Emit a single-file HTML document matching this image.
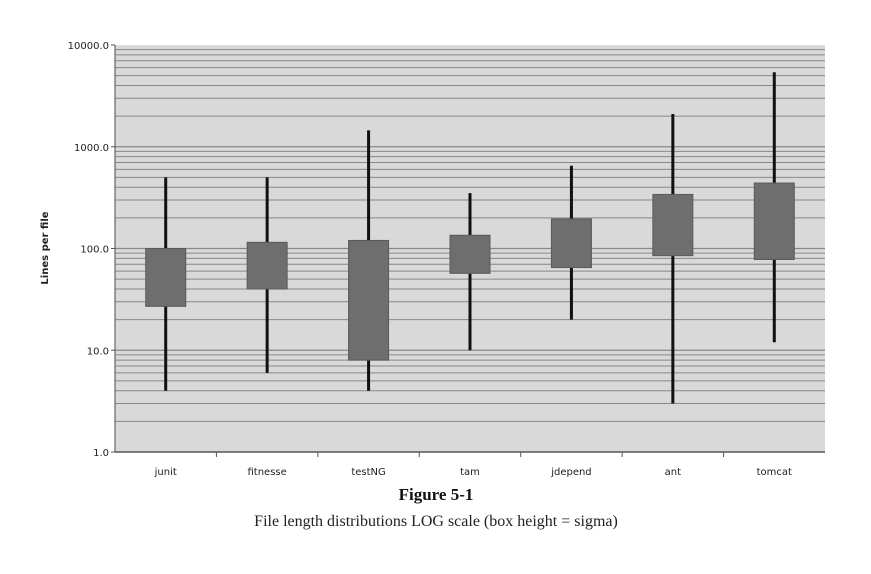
<!DOCTYPE html>
<html><head><meta charset="utf-8"><style>
body{margin:0;background:#fff;width:871px;height:569px;overflow:hidden}
</style></head><body>
<svg id="c" width="871" height="569" xmlns="http://www.w3.org/2000/svg">
<rect x="115" y="45" width="710" height="407" fill="#d9d9d9"/>
<g id="grid"></g><g id="marks"></g><g id="axes"></g>
<text transform="translate(48,248) rotate(-90)" text-anchor="middle" font-family="DejaVu Sans, sans-serif" font-size="10" font-weight="bold" fill="#222">Lines per file</text>
<text x="436" y="500" text-anchor="middle" font-family="Liberation Serif, serif" font-size="17" font-weight="bold" fill="#111">Figure 5-1</text>
<text x="436" y="526" text-anchor="middle" font-family="Liberation Serif, serif" font-size="16" fill="#222">File length distributions LOG scale (box height = sigma)</text>
</svg>
<script>
const categories=["junit","fitnesse","testNG","tam","jdepend","ant","tomcat"];
const boxLow=[27,40,8,57,65,85,78];
const boxHigh=[100,115,120,135,195,340,440];
const whiskerLow=[4,6,4,10,20,3,12];
const whiskerHigh=[500,500,1450,350,650,2100,5400];
const yTicks=[1,10,100,1000,10000];
const yTickLabels=["1.0","10.0","100.0","1000.0","10000.0"];
const NS="http://www.w3.org/2000/svg";
const L=115,R=825,T=45,B=452;
function y(v){return B-(Math.log10(v)/4)*(B-T);}
const bw=(R-L)/categories.length;
function x(i){return L+bw*(i+0.5);}
function mk(tag,attrs,parent){const e=document.createElementNS(NS,tag);for(const k in attrs)e.setAttribute(k,attrs[k]);document.getElementById(parent).appendChild(e);return e;}
for(let d=0;d<4;d++){for(let m=1;m<10;m++){const v=Math.pow(10,d)*m;if(m===1&&d===0)continue;
const g=mk('line',{x1:L,x2:R,y1:y(v),y2:y(v),stroke:'#888','stroke-width':m===1?1.3:1},'grid');

}}
const ax=mk('line',{x1:L,x2:L,y1:T,y2:B,stroke:'#666','stroke-width':1.2},'axes');


const xa=mk('line',{x1:L,x2:R,y1:B,y2:B,stroke:'#555','stroke-width':1.5},'axes');


yTicks.forEach((v,i)=>{const t=mk('line',{x1:L-4,x2:L,y1:y(v),y2:y(v),stroke:'#555'},'axes');


const tx=mk('text',{x:L-6,y:y(v)+4,'text-anchor':'end','font-family':'DejaVu Sans, sans-serif','font-size':'10',fill:'#222'},'axes');tx.textContent=yTickLabels[i];

});
for(let i=1;i<categories.length;i++){const t=mk('line',{x1:L+bw*i,x2:L+bw*i,y1:B,y2:B+5,stroke:'#555'},'axes');

}
categories.forEach((c,i)=>{
const w=mk('line',{x1:x(i),x2:x(i),y1:y(whiskerHigh[i]),y2:y(whiskerLow[i]),stroke:'#111','stroke-width':3},'marks');


const b=mk('rect',{x:x(i)-20,width:40,y:y(boxHigh[i]),height:y(boxLow[i])-y(boxHigh[i]),fill:'#6e6e6e',stroke:'#5a5a5a'},'marks');


const t=mk('text',{x:x(i),y:B+23,'text-anchor':'middle','font-family':'DejaVu Sans, sans-serif','font-size':'10',fill:'#222'},'axes');t.textContent=c;

});
</script>
</body></html>
